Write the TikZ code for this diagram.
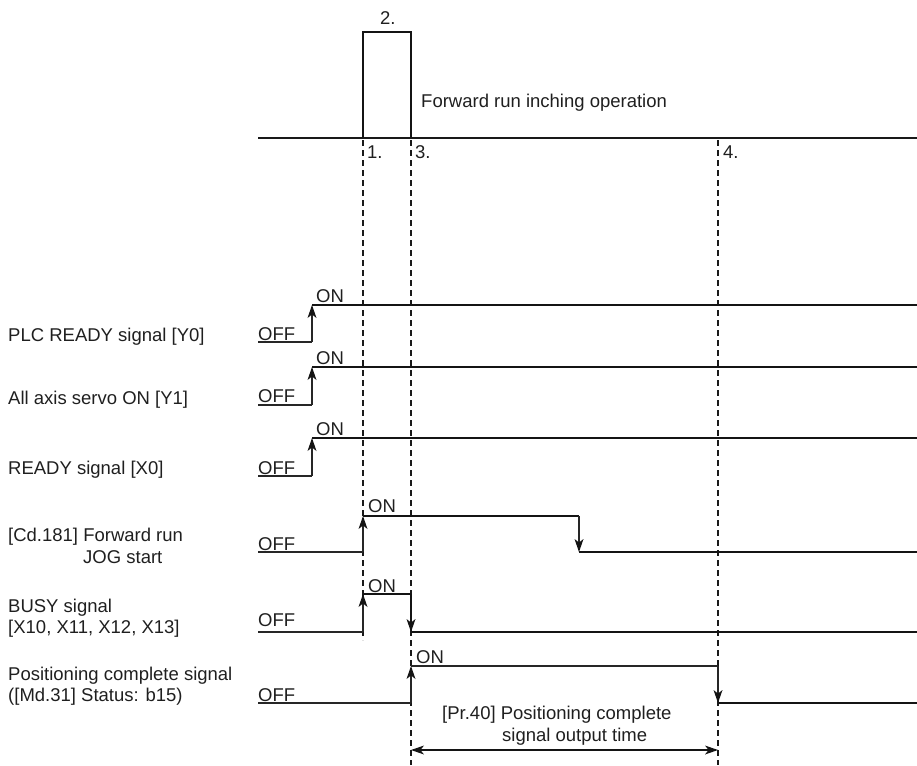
\documentclass[tikz,border=0pt]{standalone}
\usepackage{fontspec}
\setmainfont{Liberation Sans}
\usetikzlibrary{arrows.meta}
\newcommand\mytipU[1]{\fill[black!92] (#1) -- ++(-4.5,13) -- ++(4.5,-3.5) -- ++(4.5,3.5) -- cycle;}
\newcommand\mytipD[1]{\fill[black!92] (#1) -- ++(-4.5,-13) -- ++(4.5,3.5) -- ++(4.5,-3.5) -- cycle;}
\newcommand\mytipL[1]{\fill[black!92] (#1) -- ++(13,-4.5) -- ++(-3.5,4.5) -- ++(3.5,4.5) -- cycle;}
\newcommand\mytipR[1]{\fill[black!92] (#1) -- ++(-13,-4.5) -- ++(3.5,4.5) -- ++(-3.5,4.5) -- cycle;}
\begin{document}
\begin{tikzpicture}[x=1pt,y=-1pt,
  txt/.style={anchor=base west,inner sep=0pt,font=\fontsize{18.5}{22}\selectfont,text=black!88},
  sig/.style={line width=2.4pt,black!92},
  lowsig/.style={line width=1.6pt,black!85},
  dsh/.style={line width=1.1pt,black!90,dash pattern=on 6pt off 4pt},
  toend/.style={shorten >=6pt},
  bothend/.style={shorten >=6pt,shorten <=6pt}]
\useasboundingbox (0,0) rectangle (917,765);

% top: inching pulse
\coordinate (b0) at (258,138);
\coordinate (b1) at (917,138);
\draw[line width=1.6pt,black!90] (b0) -- (b1);
\coordinate (p0) at (363,138);
\coordinate (p1) at (363,32);
\coordinate (p2) at (411,32);
\coordinate (p3) at (411,138);
\draw[line width=2.4pt,black!92] (p0) -- (p1) -- (p2) -- (p3);
\node[txt] (n2) at (380,25) {2.};
\node[txt] (fw) at (421,108) {Forward run inching operation};
\node[txt] (n1) at (367,158) {1.};
\node[txt] (n3) at (415,158) {3.};
\node[txt] (n4) at (723,158) {4.};

% dashed timing lines
\coordinate (d1a) at (363,140); \coordinate (d1b) at (363,640);
\coordinate (d3a) at (411,140); \coordinate (d3b) at (411,765);
\coordinate (d4a) at (718,140); \coordinate (d4b) at (718,765);
\draw[dsh] (d1a) -- (d1b);
\draw[dsh] (d3a) -- (d3b);
\draw[dsh] (d4a) -- (d4b);

% PLC READY
\node[txt] (l1) at (8,341) {PLC READY signal [Y0]};
\node[txt] (off1) at (258,340) {OFF};
\node[txt] (on1) at (316,302) {ON};
\coordinate (a0) at (258,342); \coordinate (a1) at (312,342);
\coordinate (a2) at (312,305); \coordinate (a3) at (917,305);
\draw[lowsig] (a0) -- (a1);
\draw[lowsig,toend] (a1) -- (a2); \mytipU{a2}
\draw[sig] (a2) -- (a3);

% All axis servo ON
\node[txt] (l2) at (8,404) {All axis servo ON [Y1]};
\node[txt] (off2) at (258,402) {OFF};
\node[txt] (on2) at (316,364) {ON};
\coordinate (s0) at (258,405); \coordinate (s1) at (312,405);
\coordinate (s2) at (312,367); \coordinate (s3) at (917,367);
\draw[lowsig] (s0) -- (s1);
\draw[lowsig,toend] (s1) -- (s2); \mytipU{s2}
\draw[sig] (s2) -- (s3);

% READY
\node[txt] (l3) at (8,474) {READY signal [X0]};
\node[txt] (off3) at (258,474) {OFF};
\node[txt] (on3) at (316,435) {ON};
\coordinate (r0) at (258,476); \coordinate (r1) at (312,476);
\coordinate (r2) at (312,438); \coordinate (r3) at (917,438);
\draw[lowsig] (r0) -- (r1);
\draw[lowsig,toend] (r1) -- (r2); \mytipU{r2}
\draw[sig] (r2) -- (r3);

% Cd.181
\node[txt] (l4a) at (8,541) {[Cd.181] Forward run};
\node[txt] (l4b) at (83,563) {JOG start};
\node[txt] (off4) at (258,550) {OFF};
\node[txt] (on4) at (368,512) {ON};
\coordinate (c0) at (258,552); \coordinate (c1) at (363,552);
\coordinate (c2) at (363,516); \coordinate (c3) at (579,516);
\coordinate (c4) at (579,552); \coordinate (c5) at (917,552);
\draw[lowsig] (c0) -- (c1);
\draw[lowsig,toend] (c1) -- (c2); \mytipU{c2}
\draw[sig] (c2) -- (c3);
\draw[lowsig,toend] (c3) -- (c4); \mytipD{c4}
\draw[sig] (c4) -- (c5);

% BUSY
\node[txt] (l5a) at (8,612) {BUSY signal};
\node[txt] (l5b) at (8,633) {[X10, X11, X12, X13]};
\node[txt] (off5) at (258,626) {OFF};
\node[txt] (on5) at (368,592) {ON};
\coordinate (y0) at (258,632); \coordinate (y1) at (363,632);
\coordinate (y2) at (363,594); \coordinate (y3) at (411,594);
\coordinate (y4) at (411,632); \coordinate (y5) at (917,632);
\draw[lowsig] (y0) -- (y1);
\draw[lowsig,toend] (y1) -- (y2); \mytipU{y2}
\draw[sig] (y2) -- (y3);
\draw[sig,toend] (y3) -- (y4); \mytipD{y4}
\draw[sig] (y4) -- (y5);

% Positioning complete
\node[txt] (l6a) at (8,680) {Positioning complete signal};
\node[txt] (l6b) at (8,701) {([Md.31] Status: b15)};
\node[txt] (off6) at (258,701) {OFF};
\node[txt] (on6) at (416,663) {ON};
\coordinate (q0) at (258,703); \coordinate (q1) at (411,703);
\coordinate (q2) at (411,666); \coordinate (q3) at (718,666);
\coordinate (q4) at (718,703); \coordinate (q5) at (917,703);
\draw[lowsig] (q0) -- (q1);
\draw[lowsig,toend] (q1) -- (q2); \mytipU{q2}
\draw[lowsig] (q2) -- (q3);
\draw[lowsig,toend] (q3) -- (q4); \mytipD{q4}
\draw[sig] (q4) -- (q5);

% output time
\node[txt] (pr1) at (442,719) {[Pr.40] Positioning complete};
\node[txt] (pr2) at (502,741.5) {signal output time};
\coordinate (t0) at (411,750); \coordinate (t1) at (718,750);
\draw[sig,bothend] (t0) -- (t1);
\mytipL{t0} \mytipR{t1}
\end{tikzpicture}
\end{document}
